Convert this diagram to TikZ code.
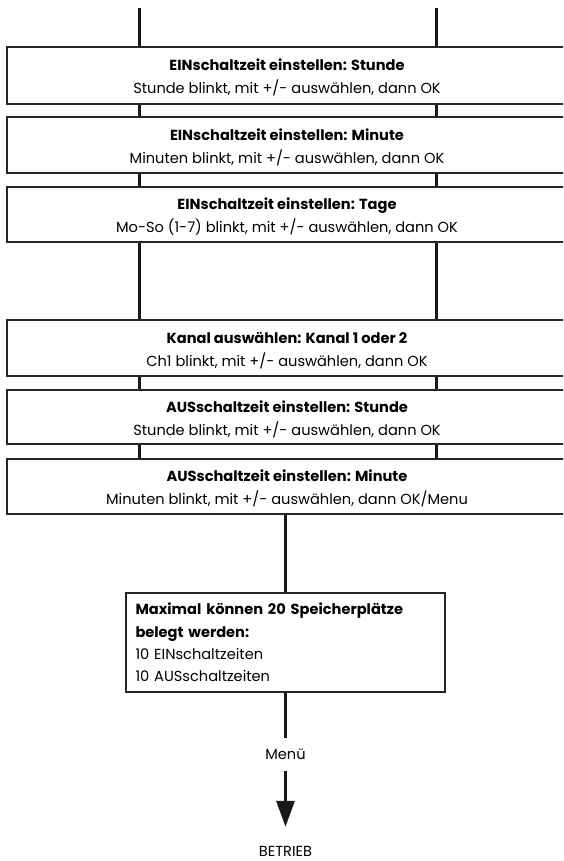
\documentclass[tikz,border=0pt]{standalone}
\usepackage{fontspec}
\setmainfont{Poppins}
\usetikzlibrary{arrows.meta,calc}
\newcommand{\topstrut}{\rule{0pt}{16pt}}
\begin{document}
\begin{tikzpicture}[x=1pt,y=-1pt,
  stepbox/.style={draw=black!85,line width=1.3pt,minimum width=560pt,inner sep=0pt,
    align=center,font=\fontsize{14.6}{23}\selectfont},
  membox/.style={draw=black!85,line width=1.3pt,minimum width=319pt,minimum height=99pt,
    text width=300pt,align=left,inner sep=0pt,font=\fontsize{14.6}{22.3}\selectfont},
  conn/.style={draw=black!90,line width=3pt},
  lbl/.style={inner sep=0pt,font=\fontsize{14.6}{15}\selectfont}]
\clip (0,0) rectangle (563,861);
\fill[white] (0,0) rectangle (563,861);
\coordinate (xl) at (139,8);
\coordinate (xr) at (436,8);
\node[stepbox,minimum height=57pt] (b1) at (287,75.5) {\topstrut\textbf{EINschaltzeit einstellen: Stunde}\\Stunde blinkt, mit +/- auswählen, dann OK};
\node[stepbox,minimum height=56pt] (b2) at (287,145) {\topstrut\textbf{EINschaltzeit einstellen: Minute}\\Minuten blinkt, mit +/- auswählen, dann OK};
\node[stepbox,minimum height=55pt] (b3) at (287,214.5) {\topstrut\textbf{EINschaltzeit einstellen: Tage}\\Mo-So (1-7) blinkt, mit +/- auswählen, dann OK};
\node[stepbox,minimum height=56pt] (b4) at (287,348) {\topstrut\textbf{Kanal auswählen: Kanal 1 oder 2}\\Ch1 blinkt, mit +/- auswählen, dann OK};
\node[stepbox,minimum height=54pt] (b5) at (287,417) {\topstrut\textbf{AUSschaltzeit einstellen: Stunde}\\Stunde blinkt, mit +/- auswählen, dann OK};
\node[stepbox,minimum height=55pt] (b6) at (287,486.5) {\topstrut\textbf{AUSschaltzeit einstellen: Minute}\\Minuten blinkt, mit +/- auswählen, dann OK/Menu};
\node[membox] (mem) at (285.5,642.5) {\textbf{Maximal können 20 Speicherplätze}\\\textbf{belegt werden:}\\10 EINschaltzeiten\\10 AUSschaltzeiten};
\node[lbl,minimum height=33pt] (menu) at (285.5,754.5) {Menü};
\node[lbl,minimum height=48pt] (betr) at (285.5,851) {BETRIEB};
% vertical connectors
\foreach \c in {xl,xr}{
  \draw[conn] (\c) -- (\c |- b1.north);
  \draw[conn] (b1.south -| \c) -- (b2.north -| \c);
  \draw[conn] (b2.south -| \c) -- (b3.north -| \c);
  \draw[conn] (b3.south -| \c) -- (b4.north -| \c);
  \draw[conn] (b4.south -| \c) -- (b5.north -| \c);
  \draw[conn] (b5.south -| \c) -- (b6.north -| \c);
}
\draw[conn] (b6.south -| mem.north) -- (mem.north);
\draw[conn] (mem.south) -- (menu.north);
\draw[conn,-{Triangle[width=18pt,length=26pt]}] (menu.south) -- (betr.north);
\end{tikzpicture}
\end{document}
